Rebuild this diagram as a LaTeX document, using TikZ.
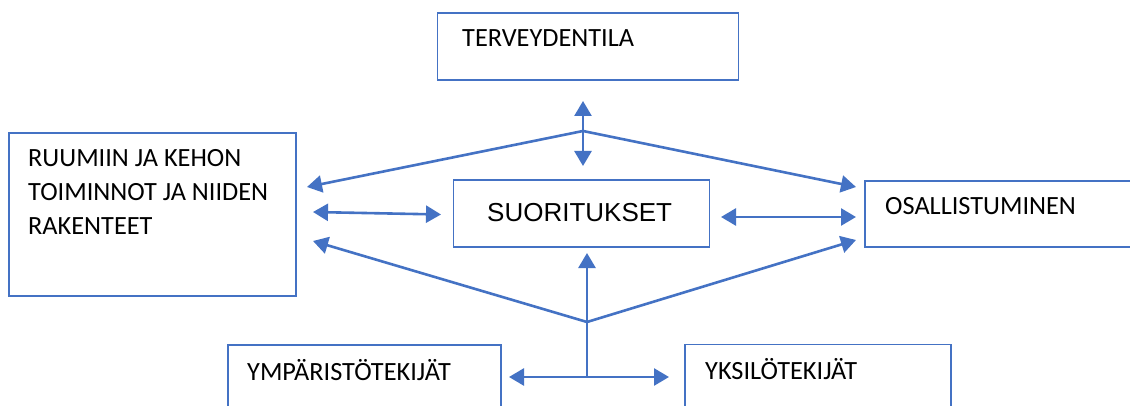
\documentclass[tikz,border=0pt]{standalone}
\usepackage{fontspec}
\setmainfont{Carlito}
\newfontfamily\arialfont{Liberation Sans}
\usetikzlibrary{arrows.meta}
\definecolor{blu}{HTML}{4472C4}
\tikzset{
  box/.style={draw=blu, line width=1.9pt, rectangle, inner sep=0pt},
  txt/.style={inner sep=0pt, anchor=base west, font=\fontsize{26.3}{34}\selectfont},
  conn/.style={draw=blu, line width=2.6pt},
  tipb/.style={-{Triangle[length=15pt,width=17pt]}},
  tipbb/.style={{Triangle[length=15pt,width=17pt]}-{Triangle[length=15pt,width=17pt]}},
}
\begin{document}
\begin{tikzpicture}[x=1pt,y=-1pt]
\clip (0,0) rectangle (1130,406);
\fill[white] (0,0) rectangle (1130,406);
% boxes
\node[box, minimum width=301pt, minimum height=67pt, anchor=north west] (bterv) at (436.5,12.5) {};
\node[box, minimum width=287pt, minimum height=163pt, anchor=north west] (bruum) at (8,132) {};
\node[box, minimum width=256pt, minimum height=67pt, anchor=north west] (bsuor) at (452.5,179.5) {};
\node[box, minimum width=280pt, minimum height=66pt, anchor=north west] (bosal) at (864,180) {};
\node[box, minimum width=273pt, minimum height=80pt, anchor=north west] (bymp) at (227,344) {};
\node[box, minimum width=266pt, minimum height=80pt, anchor=north west] (byks) at (684,343.5) {};
% texts
\node[txt] (tterv) at (462,47) {TERVEYDENTILA};
\node[txt] (tr1) at (28,167) {RUUMIIN JA KEHON};
\node[txt] (tr2) at (28,201) {TOIMINNOT JA NIIDEN};
\node[txt] (tr3) at (28,235) {RAKENTEET};
\node[txt, font=\arialfont\fontsize{26}{30}\selectfont] (tsuor) at (487,222) {SUORITUKSET};
\node[txt] (tosal) at (885,215) {OSALLISTUMINEN};
\node[txt] (tymp) at (247,380) {YMPÄRISTÖTEKIJÄT};
\node[txt] (tyks) at (705,379) {YKSILÖTEKIJÄT};
% coordinates
\coordinate (jtop) at (583,131);
\coordinate (vtopa) at (583,101);
\coordinate (vtopb) at (583,166);
\coordinate (tl1) at (307,187);
\coordinate (tr1c) at (856,187);
\coordinate (ml1) at (313,212);
\coordinate (ml2) at (441,214.5);
\coordinate (mr1) at (721,217);
\coordinate (mr2) at (856,217);
\coordinate (jbot) at (587,322);
\coordinate (bl1) at (313,241);
\coordinate (br1) at (856,240);
\coordinate (vbot) at (587,253);
\coordinate (jh) at (587,377);
\coordinate (hl) at (509,377);
\coordinate (hr) at (669,377);
% connectors
\draw[conn, tipbb] (vtopa) -- (vtopb);
\draw[conn, tipb] (jtop) -- (tl1);
\draw[conn, tipb] (jtop) -- (tr1c);
\draw[conn, tipbb] (ml1) -- (ml2);
\draw[conn, tipbb] (mr1) -- (mr2);
\draw[conn, tipb] (jbot) -- (bl1);
\draw[conn, tipb] (jbot) -- (br1);
\draw[conn, tipb] (jh) -- (vbot);
\draw[conn, tipbb] (hl) -- (hr);
\end{tikzpicture}
\end{document}
